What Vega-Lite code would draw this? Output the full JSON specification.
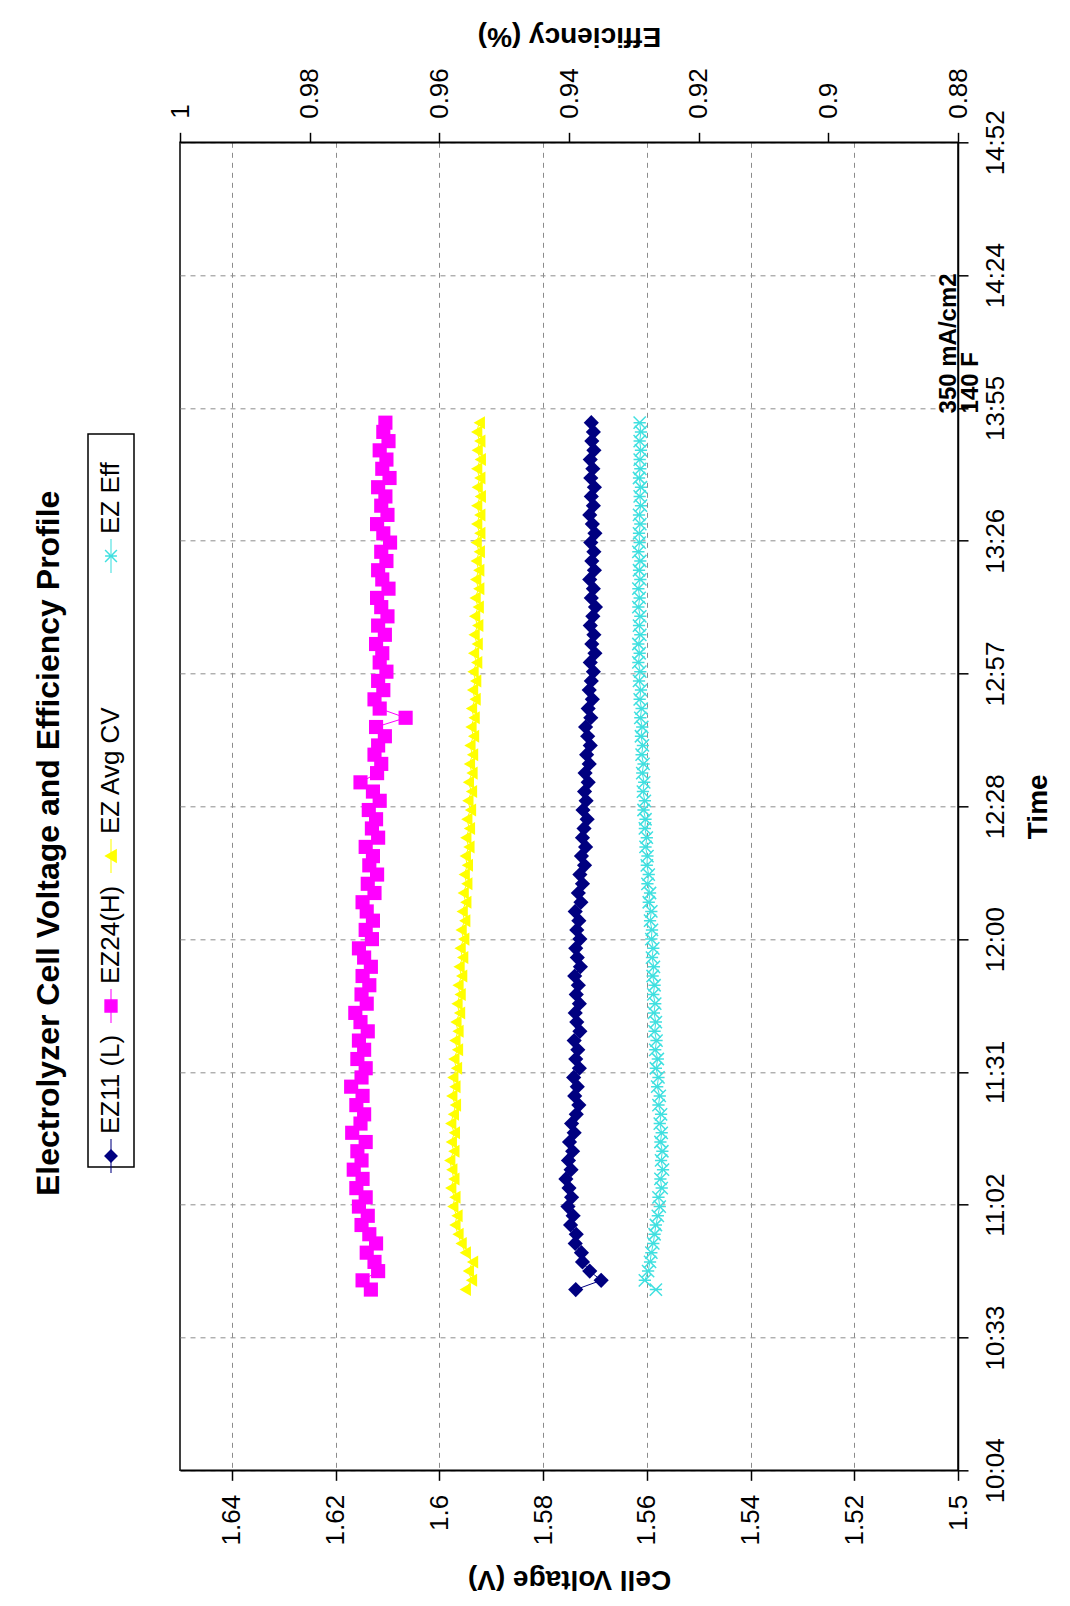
{
"$schema": "https://vega.github.io/schema/vega-lite/v6.json",
"background": "white",
"padding": {"left": 33, "top": 20, "right": 5, "bottom": 5},
"title": {"text": "Electrolyzer Cell Voltage and Efficiency Profile", "orient": "left", "anchor": "middle", "fontSize": 32, "fontWeight": "bold", "font": "Liberation Sans", "color": "#000", "offset": 21, "dx": -36},
"datasets": {
"series": [
{"t":644,"L":1.5737,"H":1.6132,"A":1.5950,"E":0.9266},
{"t":646,"L":1.5688,"H":1.6148,"A":1.5938,"E":0.9283},
{"t":648,"L":1.5710,"H":1.6118,"A":1.5944,"E":0.9278},
{"t":650,"L":1.5724,"H":1.6125,"A":1.5936,"E":0.9275},
{"t":652,"L":1.5726,"H":1.6140,"A":1.5950,"E":0.9273},
{"t":654,"L":1.5738,"H":1.6122,"A":1.5958,"E":0.9270},
{"t":656,"L":1.5736,"H":1.6135,"A":1.5964,"E":0.9268},
{"t":658,"L":1.5747,"H":1.6150,"A":1.5970,"E":0.9266},
{"t":660,"L":1.5742,"H":1.6138,"A":1.5966,"E":0.9263},
{"t":662,"L":1.5752,"H":1.6155,"A":1.5974,"E":0.9260},
{"t":664,"L":1.5745,"H":1.6142,"A":1.5970,"E":0.9262},
{"t":666,"L":1.5750,"H":1.6160,"A":1.5978,"E":0.9257},
{"t":668,"L":1.5756,"H":1.6148,"A":1.5972,"E":0.9259},
{"t":670,"L":1.5746,"H":1.6165,"A":1.5976,"E":0.9255},
{"t":672,"L":1.5751,"H":1.6150,"A":1.5980,"E":0.9258},
{"t":674,"L":1.5743,"H":1.6158,"A":1.5972,"E":0.9256},
{"t":676,"L":1.5749,"H":1.6142,"A":1.5977,"E":0.9259},
{"t":678,"L":1.5740,"H":1.6168,"A":1.5971,"E":0.9257},
{"t":680,"L":1.5745,"H":1.6152,"A":1.5978,"E":0.9260},
{"t":682,"L":1.5736,"H":1.6145,"A":1.5973,"E":0.9258},
{"t":684,"L":1.5731,"H":1.6160,"A":1.5969,"E":0.9262},
{"t":686,"L":1.5739,"H":1.6148,"A":1.5976,"E":0.9260},
{"t":688,"L":1.5734,"H":1.6170,"A":1.5970,"E":0.9264},
{"t":690,"L":1.5741,"H":1.6150,"A":1.5974,"E":0.9262},
{"t":692,"L":1.5730,"H":1.6142,"A":1.5967,"E":0.9266},
{"t":694,"L":1.5737,"H":1.6158,"A":1.5972,"E":0.9263},
{"t":696,"L":1.5733,"H":1.6145,"A":1.5965,"E":0.9267},
{"t":698,"L":1.5740,"H":1.6155,"A":1.5970,"E":0.9265},
{"t":700,"L":1.5729,"H":1.6138,"A":1.5964,"E":0.9268},
{"t":702,"L":1.5735,"H":1.6152,"A":1.5968,"E":0.9266},
{"t":704,"L":1.5738,"H":1.6162,"A":1.5961,"E":0.9269},
{"t":706,"L":1.5730,"H":1.6140,"A":1.5966,"E":0.9267},
{"t":708,"L":1.5736,"H":1.6150,"A":1.5960,"E":0.9270},
{"t":710,"L":1.5732,"H":1.6135,"A":1.5964,"E":0.9268},
{"t":712,"L":1.5739,"H":1.6148,"A":1.5957,"E":0.9271},
{"t":714,"L":1.5728,"H":1.6132,"A":1.5962,"E":0.9269},
{"t":716,"L":1.5734,"H":1.6145,"A":1.5955,"E":0.9272},
{"t":718,"L":1.5737,"H":1.6155,"A":1.5960,"E":0.9270},
{"t":720,"L":1.5729,"H":1.6130,"A":1.5953,"E":0.9273},
{"t":722,"L":1.5735,"H":1.6142,"A":1.5958,"E":0.9272},
{"t":724,"L":1.5731,"H":1.6128,"A":1.5951,"E":0.9275},
{"t":726,"L":1.5738,"H":1.6140,"A":1.5956,"E":0.9273},
{"t":728,"L":1.5727,"H":1.6148,"A":1.5949,"E":0.9277},
{"t":730,"L":1.5732,"H":1.6125,"A":1.5954,"E":0.9275},
{"t":732,"L":1.5724,"H":1.6138,"A":1.5947,"E":0.9279},
{"t":734,"L":1.5729,"H":1.6120,"A":1.5952,"E":0.9277},
{"t":736,"L":1.5720,"H":1.6135,"A":1.5946,"E":0.9280},
{"t":738,"L":1.5726,"H":1.6128,"A":1.5950,"E":0.9279},
{"t":740,"L":1.5718,"H":1.6142,"A":1.5943,"E":0.9282},
{"t":742,"L":1.5724,"H":1.6118,"A":1.5949,"E":0.9280},
{"t":744,"L":1.5721,"H":1.6130,"A":1.5942,"E":0.9283},
{"t":746,"L":1.5715,"H":1.6122,"A":1.5947,"E":0.9282},
{"t":748,"L":1.5723,"H":1.6136,"A":1.5940,"E":0.9285},
{"t":750,"L":1.5717,"H":1.6115,"A":1.5945,"E":0.9283},
{"t":752,"L":1.5720,"H":1.6128,"A":1.5938,"E":0.9286},
{"t":754,"L":1.5713,"H":1.6152,"A":1.5944,"E":0.9284},
{"t":756,"L":1.5719,"H":1.6120,"A":1.5937,"E":0.9287},
{"t":758,"L":1.5711,"H":1.6112,"A":1.5942,"E":0.9285},
{"t":760,"L":1.5716,"H":1.6125,"A":1.5936,"E":0.9288},
{"t":762,"L":1.5709,"H":1.6118,"A":1.5941,"E":0.9286},
{"t":764,"L":1.5714,"H":1.6105,"A":1.5934,"E":0.9289},
{"t":766,"L":1.5718,"H":1.6122,"A":1.5939,"E":0.9287},
{"t":768,"L":1.5708,"H":1.6065,"A":1.5933,"E":0.9290},
{"t":770,"L":1.5713,"H":1.6115,"A":1.5938,"E":0.9288},
{"t":772,"L":1.5705,"H":1.6125,"A":1.5931,"E":0.9291},
{"t":774,"L":1.5711,"H":1.6108,"A":1.5936,"E":0.9289},
{"t":776,"L":1.5707,"H":1.6118,"A":1.5930,"E":0.9292},
{"t":778,"L":1.5703,"H":1.6102,"A":1.5935,"E":0.9290},
{"t":780,"L":1.5709,"H":1.6115,"A":1.5928,"E":0.9293},
{"t":782,"L":1.5700,"H":1.6110,"A":1.5934,"E":0.9291},
{"t":784,"L":1.5706,"H":1.6122,"A":1.5927,"E":0.9293},
{"t":786,"L":1.5702,"H":1.6105,"A":1.5933,"E":0.9290},
{"t":788,"L":1.5709,"H":1.6118,"A":1.5926,"E":0.9292},
{"t":790,"L":1.5704,"H":1.6100,"A":1.5932,"E":0.9290},
{"t":792,"L":1.5699,"H":1.6112,"A":1.5925,"E":0.9293},
{"t":794,"L":1.5707,"H":1.6120,"A":1.5931,"E":0.9291},
{"t":796,"L":1.5703,"H":1.6098,"A":1.5924,"E":0.9293},
{"t":798,"L":1.5710,"H":1.6110,"A":1.5930,"E":0.9290},
{"t":800,"L":1.5701,"H":1.6118,"A":1.5924,"E":0.9292},
{"t":802,"L":1.5706,"H":1.6102,"A":1.5929,"E":0.9290},
{"t":804,"L":1.5702,"H":1.6112,"A":1.5923,"E":0.9293},
{"t":806,"L":1.5708,"H":1.6095,"A":1.5929,"E":0.9291},
{"t":808,"L":1.5700,"H":1.6108,"A":1.5922,"E":0.9292},
{"t":810,"L":1.5705,"H":1.6120,"A":1.5928,"E":0.9290},
{"t":812,"L":1.5710,"H":1.6100,"A":1.5922,"E":0.9292},
{"t":814,"L":1.5703,"H":1.6112,"A":1.5928,"E":0.9289},
{"t":816,"L":1.5707,"H":1.6104,"A":1.5921,"E":0.9291},
{"t":818,"L":1.5701,"H":1.6118,"A":1.5927,"E":0.9289},
{"t":820,"L":1.5708,"H":1.6096,"A":1.5922,"E":0.9292},
{"t":822,"L":1.5704,"H":1.6110,"A":1.5928,"E":0.9290},
{"t":824,"L":1.5709,"H":1.6102,"A":1.5921,"E":0.9291},
{"t":826,"L":1.5702,"H":1.6115,"A":1.5927,"E":0.9289},
{"t":828,"L":1.5706,"H":1.6098,"A":1.5922,"E":0.9291},
{"t":830,"L":1.5703,"H":1.6108,"A":1.5928,"E":0.9289},
{"t":832,"L":1.5707,"H":1.6104,"A":1.5923,"E":0.9291}
],
"legend": [
{"series":"EZ11 (L)"},{"series":"EZ24(H)"},{"series":"EZ Avg CV"},{"series":"EZ Eff"}
],
"note": [
{"t":834,"v":1.5017,"label":"350 mA/cm2"},
{"t":834,"v":1.4975,"label":"140 F"}
],
"blank": [{"k": 0}]
},
"hconcat": [
{
"spacing": 0,
"vconcat": [
{
"width": 46, "height": 733,
"data": {"name": "legend"},
"encoding": {"y": {"field": "series", "type": "nominal", "scale": {"type": "point", "domain": ["EZ Eff", "gap", "EZ Avg CV", "EZ24(H)", "EZ11 (L)"], "padding": 0.4433}, "axis": null}},
"layer": [
{"mark": {"type": "tick", "orient": "vertical", "size": 34, "thickness": 1.5, "yOffset": 55.5},
 "encoding": {"color": {"field": "series", "type": "nominal", "scale": {"domain": ["EZ11 (L)", "EZ24(H)", "EZ Avg CV", "EZ Eff"], "range": ["#000080", "#FF00FF", "#FFFF00", "#40E0E0"]}, "legend": null}}},
{"mark": {"type": "point", "filled": false, "opacity": 1, "size": 140, "strokeWidth": 1.5, "yOffset": 55.5},
 "encoding": {
  "stroke": {"field": "series", "type": "nominal", "scale": {"domain": ["EZ11 (L)", "EZ24(H)", "EZ Avg CV", "EZ Eff"], "range": ["#000080", "#FF00FF", "#FFFF00", "#40E0E0"]}, "legend": null},
  "fill": {"field": "series", "type": "nominal", "scale": {"domain": ["EZ11 (L)", "EZ24(H)", "EZ Avg CV", "EZ Eff"], "range": ["#000080", "#FF00FF", "#FFFF00", "#40E0E0"]}, "legend": null},
  "shape": {"field": "series", "type": "nominal", "scale": {"domain": ["EZ11 (L)", "EZ24(H)", "EZ Avg CV", "EZ Eff"], "range": ["diamond", "square", "triangle-left", "M-1,-1L1,1M-1,1L1,-1M-1,0L1,0"]}, "legend": null}}},
{"mark": {"type": "text", "angle": 270, "align": "left", "baseline": "middle", "fontSize": 26, "font": "Liberation Sans", "color": "#000", "yOffset": 33.5},
 "encoding": {"text": {"field": "series"}}}
]
},
{
"width": 46, "height": 128,
"view": {"stroke": null},
"data": {"name": "blank"},
"mark": {"type": "point", "opacity": 0}
}
]
},
{
"width": 778, "height": 1328,
"encoding": {"y": {"field": "t", "type": "quantitative", "scale": {"domain": [604.8, 892.8], "nice": false, "zero": false},
 "axis": {"orient": "right", "values": [604.8, 633.6, 662.4, 691.2, 720, 748.8, 777.6, 806.4, 835.2, 864, 892.8],
  "labelExpr": "format(floor(datum.value/60),'d') + ':' + format(floor(datum.value + 0.000001) % 60, '02d')",
  "labelAngle": 270, "labelAlign": "center", "labelBaseline": "top", "labelPadding": 14, "labelOverlap": false, "labelFlush": false,
  "title": "Time", "titleAngle": 270, "titleBaseline": "top", "titlePadding": 16, "grid": true}}},
"layer": [
{
 "encoding": {"x": {"field": "v", "type": "quantitative", "scale": {"domain": [1.5, 1.65], "reverse": true, "nice": false, "zero": false},
  "axis": {"orient": "bottom", "values": [1.5, 1.52, 1.54, 1.56, 1.58, 1.6, 1.62, 1.64], "format": "~g",
   "labelAngle": 270, "labelAlign": "right", "labelBaseline": "middle", "labelPadding": 14, "labelOverlap": false, "labelFlush": false,
   "title": "Cell Voltage (V)", "titleAngle": 180, "titleBaseline": "bottom", "titlePadding": 20, "grid": true}}},
 "layer": [
  {"data": {"name": "series"}, "transform": [{"fold": ["L", "H", "A"], "as": ["series", "v"]}],
   "mark": {"type": "line", "strokeWidth": 1},
   "encoding": {"order": {"field": "t", "type": "quantitative"},
    "color": {"field": "series", "type": "nominal", "scale": {"domain": ["L", "H", "A"], "range": ["#000080", "#FF00FF", "#FFFF00"]}, "legend": null}}},
  {"data": {"name": "series"}, "transform": [{"fold": ["L", "H", "A"], "as": ["series", "v"]}],
   "mark": {"type": "point", "filled": true, "opacity": 1},
   "encoding": {
    "color": {"field": "series", "type": "nominal", "scale": {"domain": ["L", "H", "A"], "range": ["#000080", "#FF00FF", "#FFFF00"]}, "legend": null},
    "shape": {"field": "series", "type": "nominal", "scale": {"domain": ["L", "H", "A"], "range": ["diamond", "square", "triangle-left"]}, "legend": null},
    "size": {"field": "series", "type": "nominal", "scale": {"domain": ["L", "H", "A"], "range": [230, 170, 190]}, "legend": null}}},
  {"data": {"name": "note"},
   "mark": {"type": "text", "angle": 270, "align": "left", "baseline": "middle", "fontSize": 24, "fontWeight": "bold", "font": "Liberation Sans", "color": "#000"},
   "encoding": {"text": {"field": "label"}}}
 ]
},
{
 "data": {"name": "series"},
 "encoding": {"x": {"field": "E", "type": "quantitative", "scale": {"domain": [0.88, 1], "reverse": true, "nice": false, "zero": false},
  "axis": {"orient": "top", "values": [0.88, 0.9, 0.92, 0.94, 0.96, 0.98, 1], "format": "~g",
   "labelAngle": 270, "labelAlign": "left", "labelBaseline": "middle", "labelPadding": 14, "labelOverlap": false, "labelFlush": false,
   "title": "Efficiency (%)", "titleAngle": 180, "titleBaseline": "top", "titlePadding": 18, "grid": false}}},
 "layer": [
  {"mark": {"type": "line", "strokeWidth": 1, "color": "#40E0E0"}, "encoding": {"order": {"field": "t", "type": "quantitative"}}},
  {"mark": {"type": "point", "filled": false, "opacity": 1, "size": 150, "strokeWidth": 1.5, "color": "#40E0E0", "shape": "M-1,-1L1,1M-1,1L1,-1M-1,0L1,0"}}
 ]
}
],
"resolve": {"scale": {"x": "independent"}}
}
],
"spacing": 31,
"center": true,
"resolve": {"scale": {"color": "independent", "shape": "independent", "stroke": "independent", "fill": "independent", "size": "independent", "y": "independent"}},
"config": {
 "font": "Liberation Sans",
 "view": {"stroke": "#000", "strokeWidth": 1.5},
 "axis": {"domainColor": "#000", "domainWidth": 1.5, "tickColor": "#000", "tickWidth": 1.5, "tickSize": 10,
  "labelColor": "#000", "labelFont": "Liberation Sans", "labelFontSize": 26,
  "titleColor": "#000", "titleFont": "Liberation Sans", "titleFontSize": 28, "titleFontWeight": "bold",
  "gridColor": "#8c8c8c", "gridDash": [5, 5], "gridWidth": 1}
}
}
